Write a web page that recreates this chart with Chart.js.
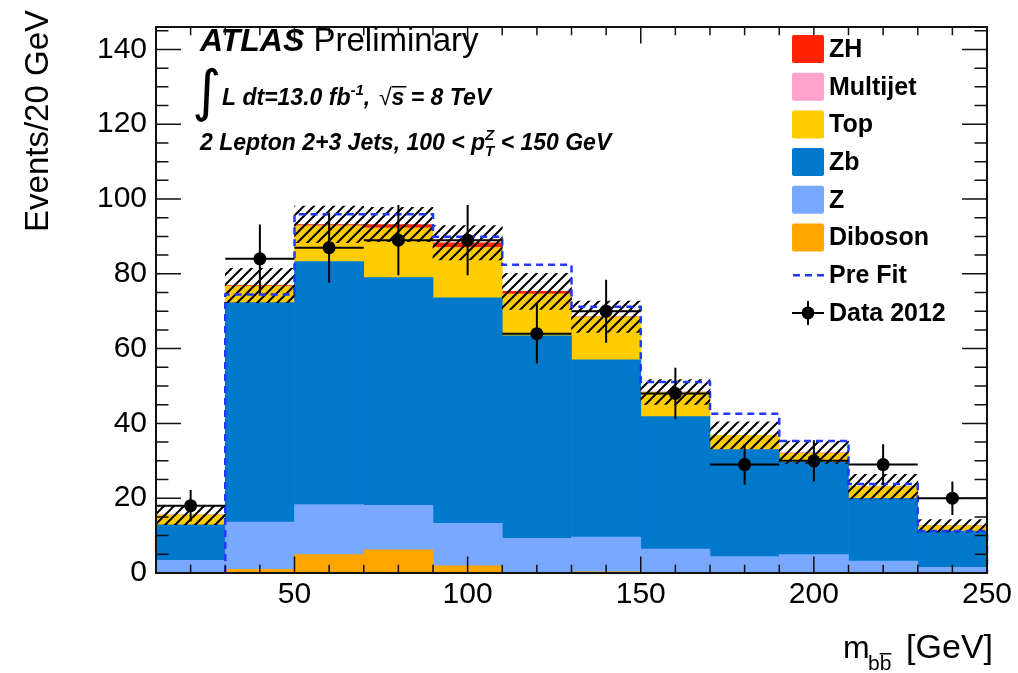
<!DOCTYPE html>
<html>
<head>
<meta charset="utf-8">
<script src="https://cdn.jsdelivr.net/npm/chart.js@4.4.0/dist/chart.umd.min.js"></script>
<style>
  body { margin: 0; background: #fff; }
  canvas { display: block; }
</style>
</head>
<body>
<canvas id="chart" width="1018" height="673"></canvas>
<script>
// bins of m_bb, 20 GeV wide
const binEdges = [10, 30, 50, 70, 90, 110, 130, 150, 170, 190, 210, 230, 250];
const binCenters = [20, 40, 60, 80, 100, 120, 140, 160, 180, 200, 220, 240];
const binLabels = ['10-30', '30-50', '50-70', '70-90', '90-110', '110-130', '130-150', '150-170', '170-190', '190-210', '210-230', '230-250'];

// stacked backgrounds, bottom to top
const diboson = [0, 1.0, 4.9, 6.2, 1.9, 0.1, 0.3, 0, 0, 0, 0, 0];
const zLight = [3.4, 12.6, 13.4, 11.9, 11.4, 9.2, 9.3, 6.4, 4.4, 4.9, 3.2, 1.5];
const zb = [9.5, 58.7, 65.0, 60.9, 60.3, 54.1, 47.4, 35.4, 28.6, 24.7, 16.8, 9.7];
const top_ = [2.6, 4.4, 9.5, 13.2, 13.4, 11.2, 11.4, 6.5, 3.8, 2.4, 3.1, 1.4];
const multijet = [0, 0, 0, 0, 0, 0, 0, 0, 0, 0.3, 0, 0];
const zh = [0, 0.2, 0.4, 1.0, 1.3, 0.7, 0.1, 0.1, 0, 0, 0, 0];
const uncert = [2.6, 4.6, 4.9, 4.6, 4.6, 4.8, 4.2, 3.3, 3.6, 3.0, 3.3, 1.7];

const preFit = [null, 74.5, 95.9, 95.9, 89.9, 82.4, 71.2, 51.1, 42.6, 35.3, 23.8, 11.2];

const data2012 = [18, 84, 87, 89, 89, 64, 70, 48, 29, 30, 29, 20];
const dataErr = [4.2, 9.2, 9.3, 9.4, 9.4, 8.0, 8.4, 6.9, 5.4, 5.5, 5.4, 4.5];

const xTicks = [50, 100, 150, 200, 250];
const yTicks = [0, 20, 40, 60, 80, 100, 120, 140];

const FONT = "'Liberation Sans', Arial, Helvetica, sans-serif";
const colors = {
    zh: '#ff2200',
    multijet: '#ffa3cc',
    top: '#ffcc00',
    zb: '#0078cc',
    z: '#78a9ff',
    diboson: '#ffa500',
    preFit: '#2038ff',
};

const makeHatch = () => {
    const c = document.createElement('canvas');
    c.width = 10;
    c.height = 10;
    const g = c.getContext('2d');
    g.strokeStyle = '#000';
    g.lineWidth = 2;
    g.beginPath();
    g.moveTo(-1, 11);
    g.lineTo(11, -1);
    g.moveTo(-3, 3);
    g.lineTo(3, -3);
    g.moveTo(7, 13);
    g.lineTo(13, 7);
    g.stroke();
    return g.createPattern(c, 'repeat');
};

const totalMC = binCenters.map((_, i) =>
    diboson[i] + zLight[i] + zb[i] + top_[i] + multijet[i] + zh[i]);
const band = totalMC.map((t, i) => [t - uncert[i], t + uncert[i]]);

// step outline of the pre-fit prediction, from the bin low edges
const preFitPoints = [];
preFit.forEach((v, i) => {
    if (v == null) return;
    if (!preFitPoints.length) preFitPoints.push({ x: binEdges[i], y: 0 });
    preFitPoints.push({ x: binEdges[i], y: v });
});
preFitPoints.push({ x: binEdges[binEdges.length - 1], y: preFit[preFit.length - 1] });
preFitPoints.push({ x: binEdges[binEdges.length - 1], y: 0 });

const barSet = (label, data, color, stack, order) => ({
    type: 'bar',
    label,
    data,
    backgroundColor: color,
    borderWidth: 0,
    stack,
    order,
    grouped: false,
    xAxisID: 'x',
    barPercentage: 1,
    categoryPercentage: 1,
});

const errorBars = {
    id: 'errorBars',
    afterDatasetsDraw(chart) {
        const { ctx } = chart;
        const xs = chart.scales.xl;
        const ys = chart.scales.y;
        ctx.save();
        ctx.strokeStyle = '#000';
        ctx.lineWidth = 2;
        ctx.beginPath();
        data2012.forEach((v, i) => {
            const px = xs.getPixelForValue(binCenters[i]);
            const py = ys.getPixelForValue(v);
            ctx.moveTo(xs.getPixelForValue(binEdges[i]), py);
            ctx.lineTo(xs.getPixelForValue(binEdges[i + 1]), py);
            ctx.moveTo(px, ys.getPixelForValue(v + dataErr[i]));
            ctx.lineTo(px, ys.getPixelForValue(v - dataErr[i]));
        });
        ctx.stroke();
        ctx.restore();
    },
};

const frameTicks = {
    id: 'frameTicks',
    afterDatasetsDraw(chart) {
        const { ctx, chartArea: a } = chart;
        const xs = chart.scales.xl;
        const ys = chart.scales.y;
        const xLen = 0.03 * (a.bottom - a.top);
        const yLen = 0.03 * (a.right - a.left);
        ctx.save();
        ctx.strokeStyle = '#111';
        ctx.lineWidth = 1.5;
        ctx.beginPath();
        for (let v = 20; v < 250; v += 10) {
            const px = xs.getPixelForValue(v);
            const len = v % 50 === 0 ? xLen : xLen / 2;
            ctx.moveTo(px, a.bottom);
            ctx.lineTo(px, a.bottom - len);
            ctx.moveTo(px, a.top);
            ctx.lineTo(px, a.top + len);
        }
        for (let v = 5; v <= 145; v += 5) {
            const py = ys.getPixelForValue(v);
            const len = v % 20 === 0 ? yLen : yLen / 2;
            ctx.moveTo(a.left, py);
            ctx.lineTo(a.left + len, py);
            ctx.moveTo(a.right, py);
            ctx.lineTo(a.right - len, py);
        }
        ctx.stroke();
        ctx.lineWidth = 2;
        ctx.strokeRect(a.left, a.top, a.right - a.left, a.bottom - a.top);
        ctx.restore();
    },
};

const drawRun = (ctx, parts, x, y) => {
    parts.forEach((p) => {
        ctx.font = p.font;
        ctx.fillText(p.t, x, y + (p.dy || 0));
        if (!p.stay) x += ctx.measureText(p.t).width + (p.dx || 0);
    });
    return x;
};

const legendRows = [
    { label: 'ZH', color: colors.zh },
    { label: 'Multijet', color: colors.multijet },
    { label: 'Top', color: colors.top },
    { label: 'Zb', color: colors.zb },
    { label: 'Z', color: colors.z },
    { label: 'Diboson', color: colors.diboson },
    { label: 'Pre Fit', line: true },
    { label: 'Data 2012', marker: true },
];

const labels = {
    id: 'labels',
    afterDraw(chart) {
        const { ctx } = chart;
        ctx.save();
        ctx.fillStyle = '#000';
        ctx.textBaseline = 'alphabetic';
        ctx.textAlign = 'left';

        drawRun(ctx, [
            { t: 'ATLAS', font: `italic bold 32px ${FONT}` },
            { t: ' Preliminary', font: `33px ${FONT}`, dx: 0 },
        ], 200, 51);

        ctx.font = `56px 'DejaVu Sans'`;
        ctx.fillText('\u222B', 192, 110);
        const bi = `italic bold 23px ${FONT}`;
        const sm = `italic bold 15px ${FONT}`;
        let x = drawRun(ctx, [
            { t: 'L dt=13.0 fb', font: bi },
            { t: '-1', font: sm, dy: -10 },
            { t: ',  ', font: bi },
        ], 222, 105);
        ctx.font = `23px ${FONT}`;
        ctx.fillText('\u221A', x - 4, 105);
        x += ctx.measureText('\u221A').width - 4;
        ctx.font = bi;
        const sw = ctx.measureText('s').width;
        ctx.fillRect(x, 86, sw + 2, 1.5);
        drawRun(ctx, [{ t: 's = 8 TeV', font: bi }], x, 105);

        drawRun(ctx, [
            { t: '2 Lepton 2+3 Jets, 100 < p', font: bi },
            { t: 'Z', font: sm, dy: -10, stay: true },
            { t: 'T', font: sm, dy: 6 },
            { t: ' < 150 GeV', font: bi },
        ], 200, 150);

        // legend
        const bx = 792;
        legendRows.forEach((r, i) => {
            const cy = 49 + i * 37.7;
            if (r.color) {
                ctx.fillStyle = r.color;
                ctx.beginPath();
                ctx.roundRect(bx, cy - 14, 32, 28, 2);
                ctx.fill();
            } else if (r.line) {
                ctx.strokeStyle = colors.preFit;
                ctx.lineWidth = 2.5;
                ctx.setLineDash([7, 5]);
                ctx.beginPath();
                ctx.moveTo(bx + 1, cy);
                ctx.lineTo(bx + 32, cy);
                ctx.stroke();
                ctx.setLineDash([]);
            } else if (r.marker) {
                ctx.strokeStyle = '#000';
                ctx.lineWidth = 2;
                ctx.beginPath();
                ctx.moveTo(bx, cy);
                ctx.lineTo(bx + 32, cy);
                ctx.moveTo(bx + 16, cy - 12);
                ctx.lineTo(bx + 16, cy + 12);
                ctx.stroke();
                ctx.fillStyle = '#000';
                ctx.beginPath();
                ctx.arc(bx + 16, cy, 6.5, 0, Math.PI * 2);
                ctx.fill();
            }
            ctx.fillStyle = '#000';
            ctx.font = `bold 25px ${FONT}`;
            ctx.textBaseline = 'middle';
            ctx.fillText(r.label, 829, cy + 1);
            ctx.textBaseline = 'alphabetic';
        });

        // x axis title
        ctx.font = `32px ${FONT}`;
        ctx.fillText('m', 843, 658);
        ctx.font = `21px ${FONT}`;
        ctx.fillText('b', 868, 670);
        const bw = ctx.measureText('b').width;
        ctx.fillText('b', 868 + bw, 670);
        ctx.fillRect(868 + bw, 653, bw, 1.5);
        ctx.font = `34px ${FONT}`;
        ctx.textAlign = 'right';
        ctx.fillText('[GeV]', 993, 658);

        // y axis title
        ctx.translate(48, 10);
        ctx.rotate(-Math.PI / 2);
        ctx.font = `33px ${FONT}`;
        ctx.textAlign = 'right';
        ctx.fillText('Events/20 GeV', 0, 0);
        ctx.restore();
    },
};

const hatch = makeHatch();

new Chart(document.getElementById('chart'), {
    type: 'bar',
    data: {
        labels: binLabels,
        datasets: [
            barSet('Diboson', diboson, colors.diboson, 'mc', 3),
            barSet('Z', zLight, colors.z, 'mc', 3),
            barSet('Zb', zb, colors.zb, 'mc', 3),
            barSet('Top', top_, colors.top, 'mc', 3),
            barSet('Multijet', multijet, colors.multijet, 'mc', 3),
            barSet('ZH', zh, colors.zh, 'mc', 3),
            barSet('Uncertainty', band, hatch, 'unc', 2),
            {
                type: 'line',
                label: 'Pre Fit',
                data: preFitPoints,
                xAxisID: 'xl',
                stack: 'prefit',
                order: 1,
                borderColor: colors.preFit,
                borderWidth: 2.5,
                borderDash: [7, 5],
                stepped: true,
                pointRadius: 0,
                fill: false,
                clip: false,
            },
            {
                type: 'scatter',
                label: 'Data 2012',
                data: binCenters.map((x, i) => ({ x, y: data2012[i] })),
                xAxisID: 'xl',
                stack: 'data',
                order: 0,
                backgroundColor: '#000',
                borderWidth: 0,
                pointRadius: 6.5,
            },
        ],
    },
    options: {
        responsive: false,
        animation: false,
        devicePixelRatio: 1,
        layout: { padding: { left: 0, top: 11, right: 31, bottom: 0 }, autoPadding: false },
        plugins: { legend: { display: false }, tooltip: { enabled: false } },
        scales: {
            x: {
                display: false,
                stacked: true,
                offset: true,
            },
            xl: {
                type: 'linear',
                position: 'bottom',
                min: 10,
                max: 250,
                offset: false,
                afterBuildTicks: (s) => { s.ticks = xTicks.map((value) => ({ value })); },
                afterFit: (s) => { s.height = 100; },
                grid: { display: false, drawTicks: false, offset: false },
                border: { display: false },
                ticks: { color: '#000', font: { family: FONT, size: 30 }, padding: 4, maxRotation: 0 },
            },
            y: {
                stacked: true,
                min: 0,
                max: 146,
                afterBuildTicks: (s) => { s.ticks = yTicks.map((value) => ({ value })); },
                afterFit: (s) => { s.width = 156; },
                grid: { display: false, drawTicks: false },
                border: { display: false },
                ticks: { color: '#000', font: { family: FONT, size: 30 }, padding: 9 },
            },
        },
    },
    plugins: [errorBars, frameTicks, labels],
});
</script>
</body>
</html>
